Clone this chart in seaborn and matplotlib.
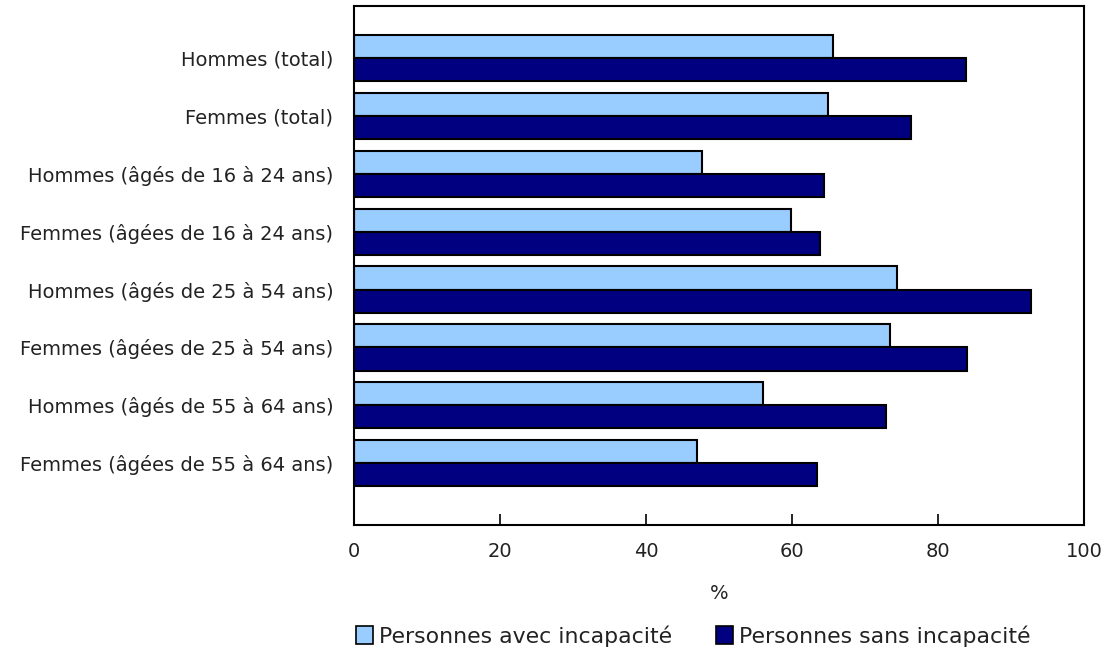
import numpy as np
import pandas as pd
import matplotlib.pyplot as plt
import seaborn as sns
from matplotlib.patches import Patch

# Données (%)
categories = [
    "Hommes (total)",
    "Femmes (total)",
    "Hommes (âgés de 16 à 24 ans)",
    "Femmes (âgées de 16 à 24 ans)",
    "Hommes (âgés de 25 à 54 ans)",
    "Femmes (âgées de 25 à 54 ans)",
    "Hommes (âgés de 55 à 64 ans)",
    "Femmes (âgées de 55 à 64 ans)",
]
avec_incapacite = [65.6, 64.9, 47.7, 59.9, 74.4, 73.4, 56.0, 47.0]
sans_incapacite = [83.8, 76.3, 64.4, 63.8, 92.8, 84.0, 72.9, 63.4]
series = ["Personnes avec incapacité", "Personnes sans incapacité"]
x_ticks = [0, 20, 40, 60, 80, 100]

colors = ["#99CCFF", "#000080"]
FS = 14

df = pd.DataFrame({
    "categorie": categories * 2,
    "valeur": avec_incapacite + sans_incapacite,
    "serie": [series[0]] * len(categories) + [series[1]] * len(categories),
})

sns.set_theme(style="white")
plt.rcParams["font.family"] = ["DejaVu Sans"]

fig = plt.figure(figsize=(11.03, 6.49), dpi=100)
ax = fig.add_axes([354 / 1103, 1 - 525 / 649, 730 / 1103, 519 / 649])

sns.barplot(data=df, y="categorie", x="valeur", hue="serie", orient="h",
            palette=colors, saturation=1, width=0.8, order=categories,
            hue_order=series, edgecolor="black", linewidth=1.5, ax=ax,
            legend=False)

ax.set_xlim(0, 100)
ax.set_ylim(8.07, -0.9)
ax.set_xticks(x_ticks)
ax.set_xticklabels([str(t) for t in x_ticks], fontsize=FS)
ax.tick_params(axis="x", direction="in", length=8, width=1.2, pad=12,
               colors="black", labelcolor="#222222", bottom=True)
ax.tick_params(axis="y", length=0, pad=15, labelsize=FS, labelcolor="#222222")
ax.set_xlabel("%", fontsize=FS, labelpad=17, color="#222222")
ax.set_ylabel("")
for sp in ax.spines.values():
    sp.set_visible(True)
    sp.set_color("black")
    sp.set_linewidth(1.5)

handles = [Patch(facecolor=c, edgecolor="black", linewidth=1.2) for c in colors]
fig.legend(handles, series, loc="center", bbox_to_anchor=(693 / 1103, 1 - 636 / 649),
           ncol=2, frameon=False, fontsize=15.8, handlelength=0.8, handleheight=0.9,
           handletextpad=0.25, columnspacing=2.0, labelcolor="#222222")

fig.savefig("out.png", dpi=100)
